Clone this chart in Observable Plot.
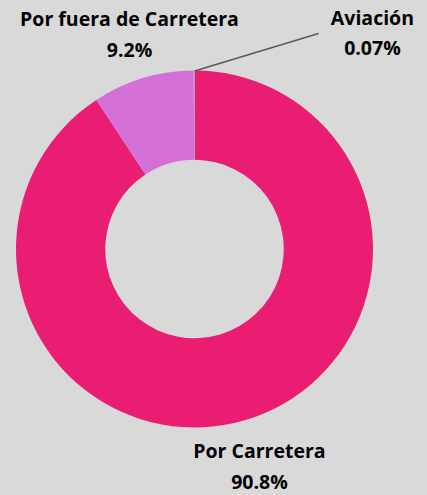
<!DOCTYPE html>
<html>
<head>
<meta charset="utf-8">
<script src="https://cdn.jsdelivr.net/npm/d3@7"></script>
<script src="https://cdn.jsdelivr.net/npm/@observablehq/plot@0.6"></script>
<style>
  html, body { margin: 0; padding: 0; background: #d9d9d9; }
  #chart { width: 427px; height: 495px; overflow: hidden; }
</style>
</head>
<body>
<div id="chart"></div>
<script>
// Data
const categories = ["Por Carretera", "Por fuera de Carretera", "Aviación"];
const values = [90.8, 9.2, 0.07];
const valueLabels = ["90.8%", "9.2%", "0.07%"];
const colors = ["#E91E72", "#D46FD6", "#9DB4EC"];

// Layout (unit coordinates relative to the donut radius)
const labelX = [0.361, -0.367, 0.994];
const labelY = [-1.339, 1.081, 1.087];
const leaderEnd = {x: 0.692, y: 1.21};
const innerRatio = 0.5;

const rows = categories.map((c, i) => ({
  category: c, value: values[i], label: valueLabels[i], color: colors[i],
  lx: labelX[i], ly: labelY[i]
}));

const pie = d3.pie().value(d => d.value).sort(null);
const arcs = pie(rows);

// Leader line for Aviación, starting on the outer edge at the mid angle of its slice
const av = arcs[2];
const avMid = (av.startAngle + av.endAngle) / 2;
const leader = [{x1: Math.sin(avMid), y1: Math.cos(avMid), x2: leaderEnd.x, y2: leaderEnd.y}];

function donutMark(index, scales) {
  const {x, y} = scales;
  const cx = x(0), cy = y(0);
  const R = x(1) - x(0);
  const arcGen = d3.arc().innerRadius(R * innerRatio).outerRadius(R);
  const g = d3.create("svg:g").attr("transform", `translate(${cx},${cy})`);
  g.selectAll("path").data(arcs).join("path")
    .attr("d", arcGen)
    .attr("fill", d => d.data.color);
  return g.node();
}

const chart = Plot.plot({
  width: 427,
  height: 495,
  margin: 0,
  x: {domain: [-1, 1], range: [16, 373], axis: null},
  y: {domain: [-1, 1], range: [427.5, 70.5], axis: null},
  style: {background: "#d9d9d9", fontFamily: "'Open Sans', sans-serif"},
  marks: [
    donutMark,
    Plot.link(leader, {x1: "x1", y1: "y1", x2: "x2", y2: "y2", stroke: "#595959", strokeWidth: 1.5}),
    Plot.text(rows, {
      x: "lx", y: "ly",
      text: d => d.category + "\n" + d.label,
      textAnchor: "middle",
      lineAnchor: "bottom",
      lineHeight: 1.55,
      fontSize: 19.5,
      fontWeight: "bold",
      fill: "#000"
    })
  ]
});

document.getElementById("chart").appendChild(chart);
</script>
</body>
</html>
